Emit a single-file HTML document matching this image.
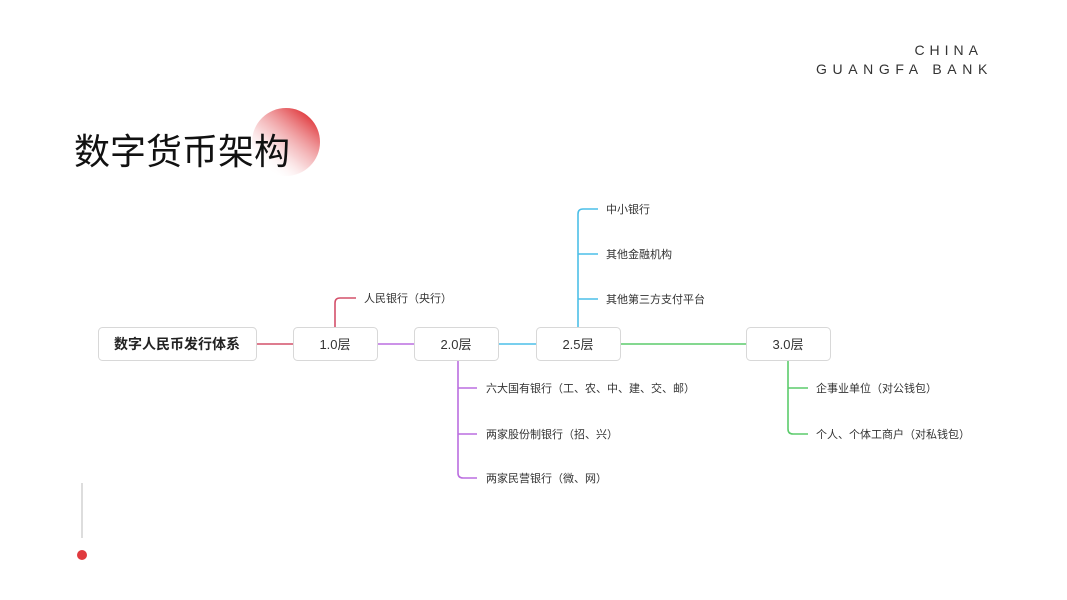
<!DOCTYPE html>
<html><head><meta charset="utf-8"><style>
html,body{margin:0;padding:0;background:#fff;}
svg{display:block;}
text{font-family:"Liberation Sans","Noto Sans CJK SC",sans-serif;}
</style></head><body>
<svg width="1067" height="600" viewBox="0 0 1067 600" xmlns="http://www.w3.org/2000/svg">
<defs>
<linearGradient id="g" x1="0.85" y1="0.1" x2="0.2" y2="0.9">
<stop offset="0" stop-color="#e03a3e"/>
<stop offset="0.6" stop-color="#f3b5b8" stop-opacity="0.6"/>
<stop offset="1" stop-color="#fff" stop-opacity="0"/>
</linearGradient>
</defs>
<text x="983" y="55" font-size="14" letter-spacing="5" fill="#333" text-anchor="end">CHINA</text>
<text x="816" y="74" font-size="14" letter-spacing="5.6" fill="#333">GUANGFA BANK</text>
<circle cx="286" cy="142" r="34" fill="url(#g)"/>
<text x="74" y="164" font-size="36" fill="#111" font-family="'Noto Sans CJK SC',sans-serif">数字货币架构</text>
<line x1="82" y1="483" x2="82" y2="538" stroke="#bbb" stroke-width="1"/>
<circle cx="82" cy="555" r="5" fill="#e03a3e"/>
<g fill="none" stroke-width="1.6">
<path d="M256 344H293" stroke="#d4506a"/>
<path d="M335 327V303Q335 298 340 298H356" stroke="#d4506a"/>
<path d="M377 344H414" stroke="#bb6ee0"/>
<path d="M458 360V473Q458 478 463 478H477M458 388H477M458 434H477" stroke="#bb6ee0"/>
<path d="M498 344H536" stroke="#4cbfe8"/>
<path d="M578 327V214Q578 209 583 209H598M578 254H598M578 299H598" stroke="#4cbfe8"/>
<path d="M620 344H746" stroke="#5ccc6c"/>
<path d="M788 360V429Q788 434 793 434H808M788 388H808" stroke="#5ccc6c"/>
</g>
<g fill="#fff" stroke="#d8d8d8" stroke-width="1">
<rect x="98.5" y="327.5" width="158" height="33" rx="4"/>
<rect x="293.5" y="327.5" width="84" height="33" rx="4"/>
<rect x="414.5" y="327.5" width="84" height="33" rx="4"/>
<rect x="536.5" y="327.5" width="84" height="33" rx="4"/>
<rect x="746.5" y="327.5" width="84" height="33" rx="4"/>
</g>
<g font-size="13" fill="#333" text-anchor="middle">
<text x="177" y="349" font-weight="bold" font-size="14" fill="#222">数字人民币发行体系</text>
<text x="335" y="349">1.0层</text>
<text x="456" y="349">2.0层</text>
<text x="578" y="349">2.5层</text>
<text x="788" y="349">3.0层</text>
</g>
<g font-size="11" fill="#333">
<text x="364" y="302">人民银行（央行）</text>
<text x="486" y="392">六大国有银行（工、农、中、建、交、邮）</text>
<text x="486" y="438">两家股份制银行（招、兴）</text>
<text x="486" y="482">两家民营银行（微、网）</text>
<text x="606" y="213">中小银行</text>
<text x="606" y="258">其他金融机构</text>
<text x="606" y="303">其他第三方支付平台</text>
<text x="816" y="392">企事业单位（对公钱包）</text>
<text x="816" y="438">个人、个体工商户（对私钱包）</text>
</g>
</svg>
</body></html>
